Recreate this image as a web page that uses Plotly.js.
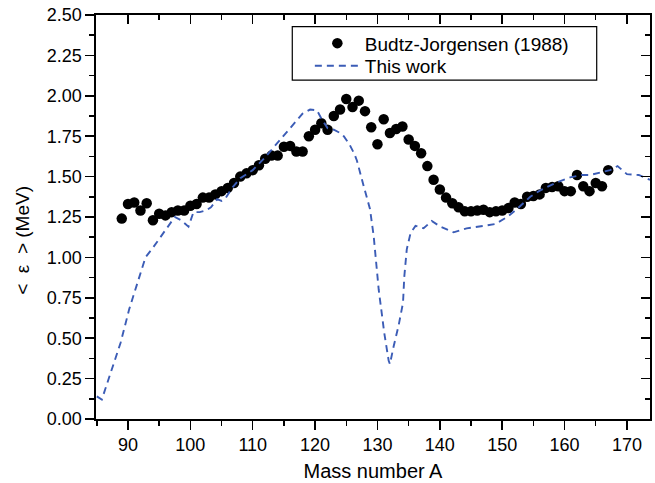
<!DOCTYPE html>
<html>
<head>
<meta charset="utf-8">
<script src="https://cdn.plot.ly/plotly-3.0.1.min.js"></script>
<style>html,body{margin:0;padding:0;background:#fff;}#chart{width:655px;height:483px;}</style>
</head>
<body>
<div id="chart"></div>
<script>
// Experimental data: Budtz-Jorgensen (1988)
const massExp = [89,90,91,92,93,94,95,96,97,98,99,100,101,102,103,104,105,106,107,108,109,110,
  111,112,113,114,115,116,117,118,119,120,121,122,123,124,125,126,127,128,129,130,
  131,132,133,134,135,136,137,138,139,140,141,142,143,144,145,146,147,148,149,150,
  151,152,153,154,155,156,157,158,159,160,161,162,163,164,165,166,167];
const epsExp = [1.24,1.33,1.34,1.29,1.335,1.23,1.27,1.26,1.28,1.29,1.29,1.32,1.33,1.37,1.37,1.39,1.41,1.43,1.46,1.50,1.52,1.54,
  1.57,1.61,1.63,1.63,1.685,1.69,1.655,1.655,1.75,1.79,1.83,1.79,1.875,1.915,1.98,1.93,1.97,1.905,1.805,1.70,
  1.855,1.77,1.795,1.81,1.73,1.69,1.645,1.565,1.48,1.42,1.37,1.335,1.31,1.285,1.285,1.29,1.295,1.28,1.285,1.29,
  1.305,1.34,1.33,1.375,1.38,1.39,1.43,1.435,1.44,1.41,1.41,1.51,1.44,1.41,1.46,1.44,1.54];

// Calculation: This work
const massCalc = [85.0,85.8,86.4,87.4,88.8,90.2,91.2,92.8,94.0,94.9,96.5,97.5,98.5,99.7,100.5,101.5,102.5,103.3,104.3,105.0,105.7,106.7,
  108,110,112,114,116,118,119.2,120.3,121,122,123,124,124.6,125.5,126.3,126.7,127.8,128.8,129.4,129.8,130.2,130.6,131.1,131.8,132.0,
  132.6,133.4,134.1,134.3,134.7,135.3,136.1,137.4,138.7,140.1,142.2,144.3,147.0,148.9,150.8,152.4,154.5,156.1,158.5,160.9,
  162.8,164.1,166.2,167.3,168.5,170.0,171.9,173.7];
const epsCalc = [0.14,0.12,0.19,0.305,0.47,0.68,0.80,1.0,1.06,1.11,1.20,1.25,1.23,1.19,1.28,1.28,1.29,1.31,1.36,1.35,1.37,1.43,
  1.49,1.54,1.62,1.71,1.80,1.89,1.915,1.91,1.86,1.80,1.79,1.77,1.75,1.70,1.64,1.60,1.44,1.30,1.13,0.96,0.80,0.68,0.53,0.36,0.34,
  0.45,0.58,0.72,0.88,1.05,1.15,1.195,1.18,1.225,1.19,1.155,1.18,1.195,1.207,1.25,1.30,1.375,1.415,1.46,1.495,
  1.51,1.51,1.53,1.54,1.565,1.515,1.51,1.48];

const xTitle = 'Mass number A';
const yTitle = '<\u00a0\u00a0\u03b5\u00a0\u00a0> (MeV)';
const expName = 'Budtz-Jorgensen (1988)';
const calcName = 'This work';

const FONT = '"Liberation Sans", Arial, Helvetica, sans-serif';
const xRange = [84.87, 173.7];
const yRange = [0, 2.5];

const traces = [
  {x: massExp, y: epsExp, type: 'scatter', mode: 'markers', name: expName,
   marker: {color: '#000', size: 10.5}, legend: 'legend'},
  {x: massCalc, y: epsCalc, type: 'scatter', mode: 'lines', name: calcName,
   line: {color: '#3b5cb6', width: 1.9, dash: '7px,5px'}, legend: 'legend2'},
  {x: [], y: [], xaxis: 'x2', yaxis: 'y2', showlegend: false, hoverinfo: 'skip'}
];

const baseAxis = {showgrid: false, zeroline: false, showline: true, linecolor: '#000', linewidth: 1.6,
  tickcolor: '#000', tickwidth: 1.5, ticklen: 9};

const layout = {
  width: 655, height: 483,
  margin: {l: 96, r: 5, t: 15, b: 64},
  paper_bgcolor: '#fff', plot_bgcolor: '#fff',
  font: {family: FONT, color: '#000'},
  showlegend: true,
  xaxis: Object.assign({}, baseAxis, {range: xRange, tick0: 0, dtick: 10, ticks: 'outside',
    minor: {dtick: 5, ticks: 'outside', ticklen: 5, tickcolor: '#000', tickwidth: 1.5},
    tickfont: {size: 18, family: FONT},
    title: {text: xTitle, font: {size: 20, family: FONT}, standoff: 10}}),
  yaxis: Object.assign({}, baseAxis, {range: yRange, tick0: 0, dtick: 0.25, tickformat: '.2f', ticks: 'outside',
    minor: {dtick: 0.125, ticks: 'outside', ticklen: 5, tickcolor: '#000', tickwidth: 1.5},
    tickfont: {size: 18, family: FONT}}),
  xaxis2: Object.assign({}, baseAxis, {range: xRange, overlaying: 'x', side: 'top', anchor: 'y', tick0: 0, dtick: 10,
    ticks: 'inside', showticklabels: false,
    minor: {dtick: 5, ticks: 'inside', ticklen: 5, tickcolor: '#000', tickwidth: 1.5}}),
  yaxis2: Object.assign({}, baseAxis, {range: yRange, overlaying: 'y', side: 'right', anchor: 'x', tick0: 0, dtick: 0.25,
    ticks: 'inside', showticklabels: false,
    minor: {dtick: 0.125, ticks: 'inside', ticklen: 5, tickcolor: '#000', tickwidth: 1.5}}),
  legend: {x: 0.386, y: 0.93, xanchor: 'left', yanchor: 'middle', bgcolor: 'rgba(0,0,0,0)',
    borderwidth: 0, itemwidth: 45, font: {size: 19, family: FONT}},
  legend2: {x: 0.386, y: 0.874, xanchor: 'left', yanchor: 'middle', bgcolor: 'rgba(0,0,0,0)',
    borderwidth: 0, itemwidth: 45, font: {size: 19, family: FONT}},
  shapes: [{type: 'rect', xref: 'paper', yref: 'paper', x0: 0.3543, x1: 0.9038, y0: 0.839, y1: 0.971,
    line: {color: '#000', width: 1.2}, fillcolor: 'rgba(0,0,0,0)'}],
  annotations: [{text: yTitle, xref: 'paper', yref: 'paper', x: -0.134, y: 0.443, xanchor: 'center', yanchor: 'middle',
    textangle: -90, showarrow: false, font: {size: 19, family: FONT}}]
};

Plotly.newPlot('chart', traces, layout, {displayModeBar: false, staticPlot: true});
</script>
</body>
</html>
